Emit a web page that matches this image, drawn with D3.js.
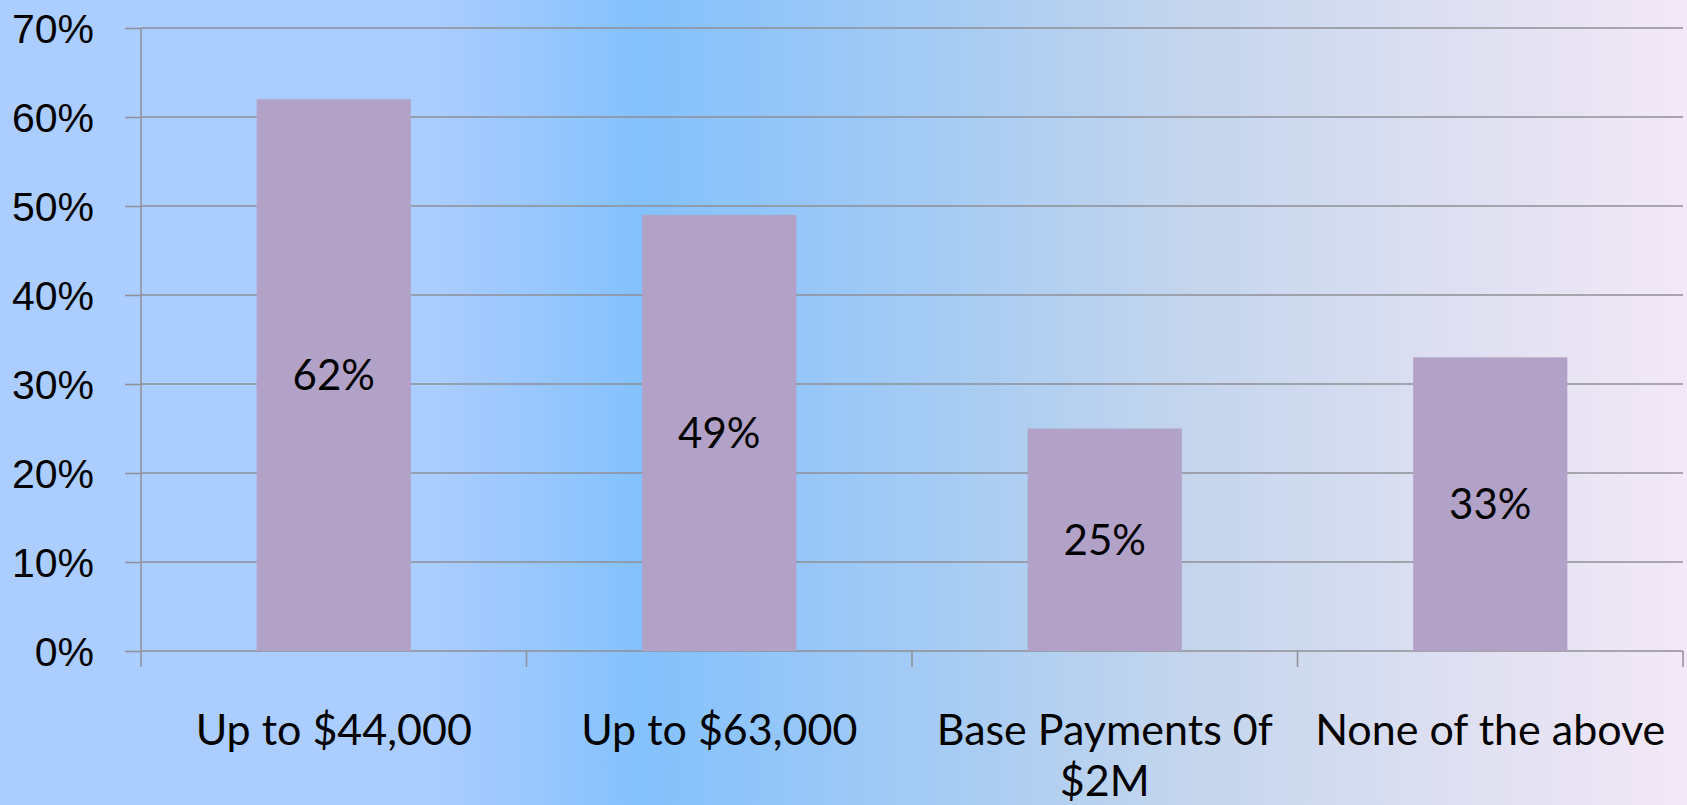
<!DOCTYPE html>
<html>
<head>
<meta charset="utf-8">
<script src="https://cdn.jsdelivr.net/npm/d3@7"></script>
<style>
  html, body { margin: 0; padding: 0; }
  body { width: 1687px; height: 805px; overflow: hidden; }
  svg { display: block; font-family: Lato, "Open Sans", sans-serif; }
</style>
</head>
<body>
<div id="chart"></div>
<script>
const categories = ["Up to $44,000", "Up to $63,000", "Base Payments 0f $2M", "None of the above"];
const labelLines = [["Up to $44,000"], ["Up to $63,000"], ["Base Payments 0f", "$2M"], ["None of the above"]];
const values = [0.62, 0.49, 0.25, 0.33];
const yTicks = [0, 0.1, 0.2, 0.3, 0.4, 0.5, 0.6, 0.7];

const width = 1687;
const height = 805;
const margin = { top: 28, right: 4, bottom: 154, left: 141 };

const svg = d3.select("#chart")
  .append("svg")
  .attr("width", width)
  .attr("height", height);

// background gradient, light blue -> blue -> lavender
const defs = svg.append("defs");
const grad = defs.append("linearGradient")
  .attr("id", "bg-grad")
  .attr("x1", "0%").attr("x2", "100%")
  .attr("y1", "0%").attr("y2", "0%");
[
  [0, "#abcdff"],
  [0.26, "#abcdff"],
  [0.38, "#84c1fd"],
  [0.55, "#a4cbf4"],
  [0.70, "#c3d5ed"],
  [0.85, "#dcdff1"],
  [1, "#f3e8f7"]
].forEach(([o, c]) => grad.append("stop").attr("offset", o).attr("stop-color", c));

svg.append("rect")
  .attr("width", width)
  .attr("height", height)
  .attr("fill", "url(#bg-grad)");

const x = d3.scaleBand()
  .domain(categories)
  .range([margin.left, width - margin.right])
  .paddingInner(0.6)
  .paddingOuter(0.3);

const xBounds = d3.scaleLinear()
  .domain([0, categories.length])
  .range([margin.left, width - margin.right]);

const y = d3.scaleLinear()
  .domain([0, 0.7])
  .range([height - margin.bottom, margin.top]);

const gridColor = "#8f8f95";

// y axis with gridlines
const yAxis = d3.axisLeft(y)
  .tickValues(yTicks)
  .tickFormat(d3.format(".0%"))
  .tickSize(16)
  .tickPadding(31);

const yG = svg.append("g")
  .attr("transform", `translate(${margin.left},0)`)
  .call(yAxis);
yG.select(".domain").remove();
yG.selectAll(".tick line").attr("stroke", gridColor).attr("stroke-width", 1.5);
yG.selectAll(".tick text")
  .attr("fill", "#000")
  .style("font-size", "41px")
  .attr("dy", "0.36em");

svg.append("g")
  .selectAll("line")
  .data(yTicks)
  .join("line")
    .attr("x1", margin.left)
    .attr("x2", width - margin.right)
    .attr("y1", d => y(d))
    .attr("y2", d => y(d))
    .attr("stroke", gridColor)
    .attr("stroke-width", 1.5);

// vertical axis line
svg.append("line")
  .attr("x1", margin.left).attr("x2", margin.left)
  .attr("y1", y(0.7)).attr("y2", y(0) + 16)
  .attr("stroke", gridColor)
  .attr("stroke-width", 1.5);

// category tick marks below the x axis
svg.append("g")
  .selectAll("line")
  .data(d3.range(1, categories.length + 1))
  .join("line")
    .attr("x1", d => xBounds(d))
    .attr("x2", d => xBounds(d))
    .attr("y1", y(0))
    .attr("y2", y(0) + 16)
    .attr("stroke", gridColor)
    .attr("stroke-width", 1.5);

// bars
svg.append("g")
  .selectAll("rect")
  .data(values)
  .join("rect")
    .attr("x", (d, i) => x(categories[i]))
    .attr("y", d => y(d))
    .attr("width", x.bandwidth())
    .attr("height", d => y(0) - y(d))
    .attr("fill", "#b2a2c7");

// value labels
svg.append("g")
  .selectAll("text")
  .data(values)
  .join("text")
    .attr("x", (d, i) => x(categories[i]) + x.bandwidth() / 2)
    .attr("y", d => (y(d) + y(0)) / 2)
    .attr("dy", "0.36em")
    .attr("text-anchor", "middle")
    .style("font-size", "42px")
    .attr("fill", "#000")
    .text(d => d3.format(".0%")(d));

// category labels
const catG = svg.append("g");
labelLines.forEach((lines, i) => {
  const t = catG.append("text")
    .attr("text-anchor", "middle")
    .style("font-size", "43px")
    .attr("fill", "#000");
  lines.forEach((line, j) => {
    t.append("tspan")
      .attr("x", x(categories[i]) + x.bandwidth() / 2)
      .attr("y", 745 + j * 51)
      .text(line);
  });
});
</script>
</body>
</html>
